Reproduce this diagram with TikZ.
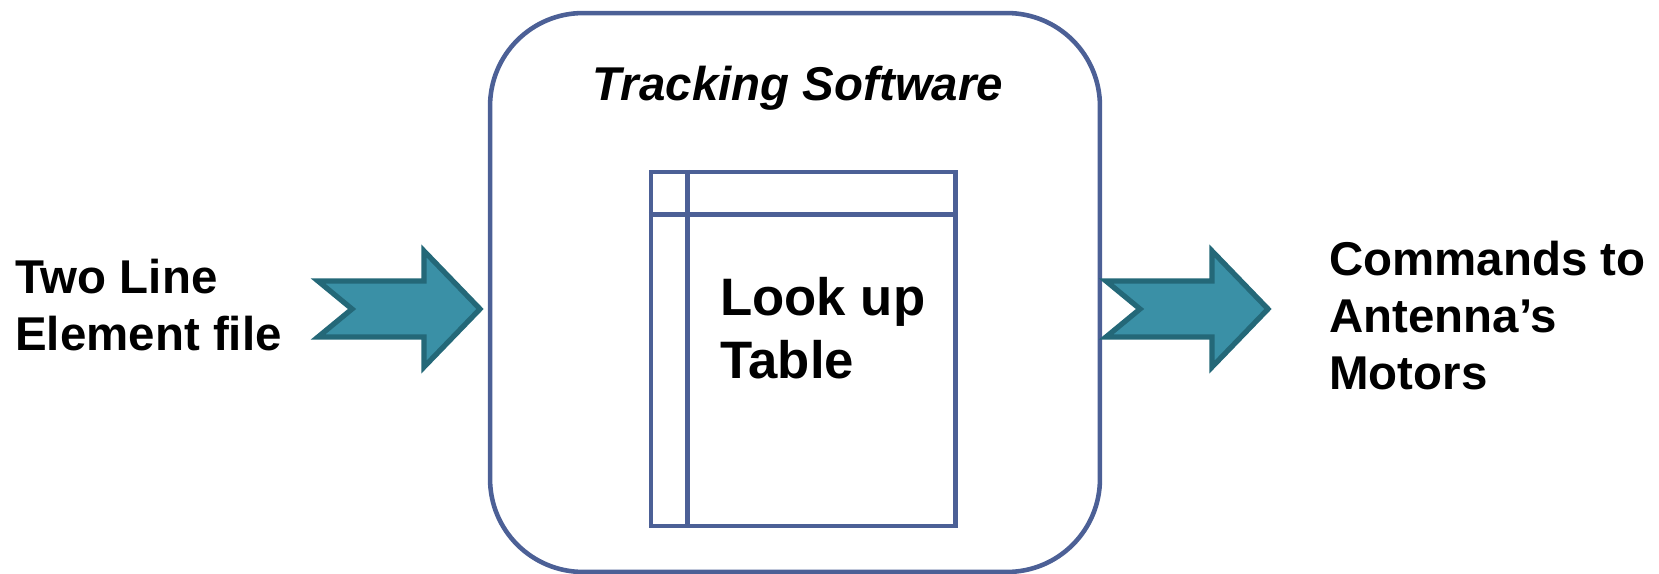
\documentclass[tikz,border=0pt]{standalone}
\usepackage{fontspec}
\setmainfont{Liberation Sans}
\usepackage{xcolor}

\definecolor{boxblue}{RGB}{76,96,150}
\definecolor{arrowfill}{RGB}{58,144,166}
\definecolor{arrowedge}{RGB}{36,104,120}

\begin{document}
\begin{tikzpicture}[x=0.02cm, y=-0.02cm,
    softbox/.style={draw=boxblue, line width=2.6pt, rounded corners=1.86cm,
        minimum width=12.2cm, minimum height=11.18cm},
    tablebox/.style={draw=boxblue, line width=2.6pt,
        minimum width=6.09cm, minimum height=7.08cm},
    tableline/.style={draw=boxblue, line width=2.6pt},
    flowarrow/.style={fill=arrowfill, draw=arrowedge, line width=3pt, line join=miter},
    label/.style={inner sep=0pt, align=left, font=\bfseries\fontsize{27}{32.4}\selectfont}]
    \useasboundingbox (0,0) rectangle (1659,574);

    % Software box with the table inside
    \node[softbox] (soft) at (795,292.5) {};
    \node[inner sep=0pt, anchor=base, font=\bfseries\itshape\fontsize{27}{32.4}\selectfont] (title) at (798,101) {Tracking Software};
    \node[tablebox] (lut) at (803.25,349) {};
    \draw[tableline] ([xshift=0.78cm]lut.north west) -- ([xshift=0.78cm]lut.south west);
    \draw[tableline] ([yshift=-0.9cm]lut.north west) -- ([yshift=-0.9cm]lut.north east);
    \node[label, anchor=base west, font=\bfseries\fontsize{30}{35.3}\selectfont] (lutname) at (720,378) {Look up\\Table};

    % Input and output arrows
    \draw[flowarrow, shift={(318,309)}] (0,-28) -- (106,-28) -- (106,-58) -- (162,0) -- (106,58) -- (106,28) -- (0,28) -- (34,0) -- cycle;
    \draw[flowarrow, shift={(1106,309)}] (0,-28) -- (106,-28) -- (106,-58) -- (162,0) -- (106,58) -- (106,28) -- (0,28) -- (34,0) -- cycle;

    % Labels
    \node[label, anchor=base west] (tle) at (15,350) {Two Line\\Element file};
    \node[label, anchor=base west] (cmd) at (1329,389) {Commands to\\Antenna’s\\Motors};
\end{tikzpicture}
\end{document}
